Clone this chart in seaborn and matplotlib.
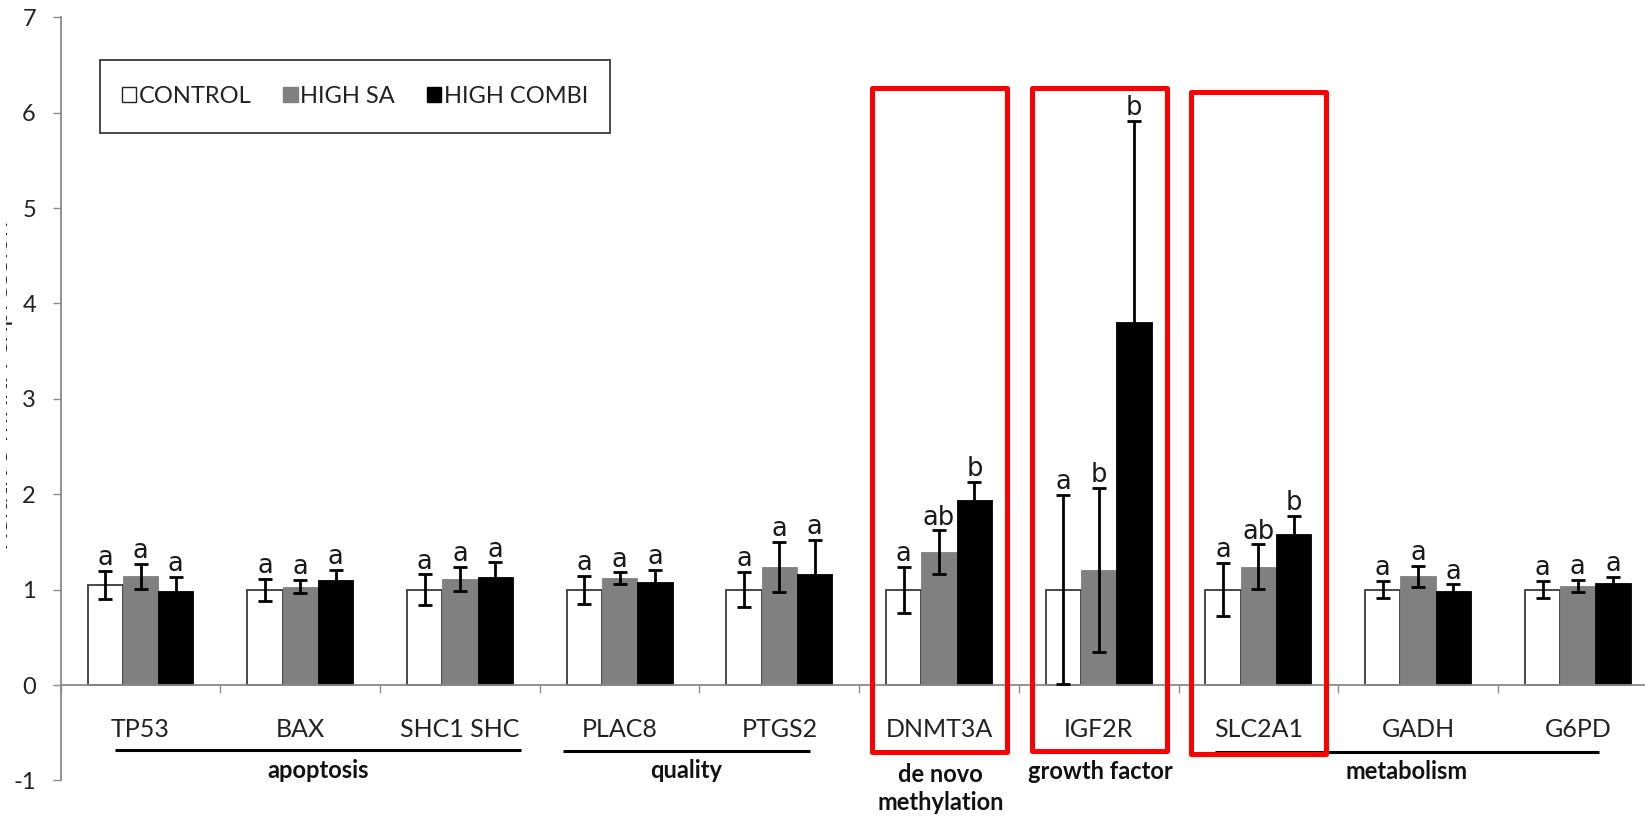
import numpy as np
import pandas as pd
import matplotlib
matplotlib.use("Agg")
import matplotlib.pyplot as plt
from matplotlib.patches import Patch, Rectangle
from matplotlib.transforms import Bbox, TransformedBbox
import seaborn as sns

# Genes and treatment groups
genes = ["TP53", "BAX", "SHC1 SHC", "PLAC8", "PTGS2", "DNMT3A", "IGF2R", "SLC2A1", "GADH", "G6PD"]
treatments = ["CONTROL", "HIGH SA", "HIGH COMBI"]

# Relative expression (mean) per gene
control = [1.05, 1.00, 1.00, 1.00, 1.00, 1.00, 1.00, 1.00, 1.00, 1.00]
high_sa = [1.14, 1.03, 1.11, 1.12, 1.24, 1.39, 1.21, 1.24, 1.14, 1.04]
high_combi = [0.99, 1.10, 1.13, 1.08, 1.16, 1.94, 3.81, 1.58, 0.99, 1.07]

# Error (+/-) per gene
control_err = [0.145, 0.115, 0.16, 0.147, 0.187, 0.24, 0.99, 0.28, 0.09, 0.09]
high_sa_err = [0.13, 0.07, 0.125, 0.06, 0.26, 0.23, 0.86, 0.235, 0.11, 0.065]
high_combi_err = [0.14, 0.105, 0.155, 0.127, 0.36, 0.19, 2.10, 0.19, 0.065, 0.065]

# Significance letters
control_sig = ["a", "a", "a", "a", "a", "a", "a", "a", "a", "a"]
high_sa_sig = ["a", "a", "a", "a", "a", "ab", "b", "ab", "a", "a"]
high_combi_sig = ["a", "a", "a", "a", "a", "b", "b", "b", "a", "a"]

# Functional groups: (label, first gene, last gene)
groups = [
    ("apoptosis", "TP53", "SHC1 SHC"),
    ("quality", "PLAC8", "PTGS2"),
    ("de novo\nmethylation", "DNMT3A", "DNMT3A"),
    ("growth factor", "IGF2R", "IGF2R"),
    ("metabolism", "SLC2A1", "G6PD"),
]
highlighted = ["DNMT3A", "IGF2R", "SLC2A1"]

sns.set_theme(style="white")
plt.rcParams["font.family"] = ["Lato", "DejaVu Sans"]
plt.rcParams["axes.unicode_minus"] = False

df = pd.DataFrame({
    "gene": genes * len(treatments),
    "treatment": np.repeat(treatments, len(genes)),
    "value": control + high_sa + high_combi,
})

palette = {"CONTROL": "#ffffff", "HIGH SA": "#808080", "HIGH COMBI": "#000000"}

fig = plt.figure(figsize=(16.45, 8.16), dpi=100)
ax = fig.add_axes([0.0369, 0.0436, 0.9708, 0.9353])

sns.barplot(data=df, x="gene", y="value", hue="treatment", order=genes,
            hue_order=treatments, palette=palette, saturation=1, width=0.663,
            errorbar=None, legend=False, ax=ax, zorder=2)

errs = [control_err, high_sa_err, high_combi_err]
sigs = [control_sig, high_sa_sig, high_combi_sig]
for cont, treat, err, sig in zip(ax.containers, treatments, errs, sigs):
    for bar in cont:
        if treat == "CONTROL":
            bar.set_edgecolor("#3a3a3a")
            bar.set_linewidth(1.3)
        else:
            bar.set_edgecolor(palette[treat])
            bar.set_linewidth(0.6)
    xs = [b.get_x() + b.get_width() / 2 for b in cont]
    hs = [b.get_height() for b in cont]
    ax.errorbar(xs, hs, yerr=err, fmt="none", ecolor="black", elinewidth=2.0,
                capsize=4.7, capthick=2.0, zorder=3)
    for x, h, e, s in zip(xs, hs, err, sig):
        ax.text(x, h + e + 0.06, s, ha="center", va="baseline", fontsize=18.5,
                family="DejaVu Sans", color="#1a1a1a", zorder=4)

# Axes styling
ax.set_xlim(-0.5, len(genes) - 0.5)
ax.set_ylim(-1, 7)
ax.set_yticks(range(-1, 8))
ax.set_xticks(np.arange(-0.5, len(genes), 1.0))
ax.set_xticklabels([])
ax.set_xlabel("")
ax.set_ylabel("")
for side in ("top", "right"):
    ax.spines[side].set_visible(False)
ax.spines["bottom"].set_position(("data", 0))
for side in ("left", "bottom"):
    ax.spines[side].set_color("#8a8a8a")
    ax.spines[side].set_linewidth(1.3)
ax.tick_params(axis="x", bottom=True, length=5.8, width=1.0, color="#8a8a8a",
               direction="out", labelbottom=False)
ax.tick_params(axis="y", left=True, length=5.8, width=1.0, color="#8a8a8a",
               direction="out", pad=12, labelsize=17, labelcolor="#222222")
ax.grid(False)

# Gene names under the zero line
for i, g in enumerate(genes):
    ax.text(i, -0.545, g, ha="center", va="baseline", fontsize=18, color="#222222")

# Group underlines and labels: (span offsets, underline y, label baseline y)
group_layout = {
    "apoptosis": ((-0.16, 0.38), -0.685, -0.975),
    "quality": ((-0.355, 0.19), -0.69, -0.975),
    "de novo\nmethylation": ((-0.38, 0.40), -0.70, -1.31),
    "growth factor": ((-0.40, 0.42), -0.70, -0.98),
    "metabolism": ((-0.27, 0.13), -0.70, -0.99),
}
for label, first, last in groups:
    i0, i1 = genes.index(first), genes.index(last)
    (lo, hi), y_line, y_text = group_layout[label]
    x0, x1 = i0 + lo, i1 + hi
    ax.plot([x0, x1], [y_line, y_line], color="black", lw=2.2, clip_on=False,
            solid_capstyle="butt", zorder=4)
    ax.text((x0 + x1) / 2, y_text, label, ha="center", va="baseline", fontsize=17,
            fontweight="bold", color="#111111", linespacing=1.25, clip_on=False)

# Red highlight frames
frame_tb = {"DNMT3A": (-0.70, 6.26), "IGF2R": (-0.69, 6.26), "SLC2A1": (-0.72, 6.22)}
for g in highlighted:
    i = genes.index(g)
    bottom, top = frame_tb[g]
    ax.add_patch(Rectangle((i - 0.42, bottom), 0.845, top - bottom, fill=False,
                           edgecolor="#ff0000", lw=3.6, joinstyle="round",
                           clip_on=False, zorder=5))

# Legend inside a plain frame
lx, ly, lw_, lh = 0.0246, 0.848, 0.3194, 0.096
handles = [Patch(facecolor=palette[t],
                 edgecolor="#222222" if t == "CONTROL" else palette[t], lw=1.0)
           for t in treatments]
ax.legend(handles, treatments, loc="center", bbox_to_anchor=(lx, ly, lw_, lh),
          bbox_transform=ax.transAxes, ncol=3, frameon=False, fontsize=17,
          handlelength=0.6, handleheight=0.6, handletextpad=0.12,
          columnspacing=1.35, labelcolor="#222222")
ax.add_patch(Rectangle((lx, ly), lw_, lh, transform=ax.transAxes, fill=False,
                       edgecolor="#3a3a3a", lw=1.3, zorder=6))

# Axis title, cut at the left margin
ylab = fig.text(8 / 1645, 1 - 385 / 816, "Relative mRNA expression", rotation=90,
                rotation_mode="anchor", ha="center", va="baseline", fontsize=18,
                family="DejaVu Sans", color="#222222")
ylab.set_clip_box(TransformedBbox(Bbox([[5.5 / 1645, 0], [14 / 1645, 1]]), fig.transFigure))
ylab.set_clip_on(True)

fig.savefig("out.png", dpi=100)
